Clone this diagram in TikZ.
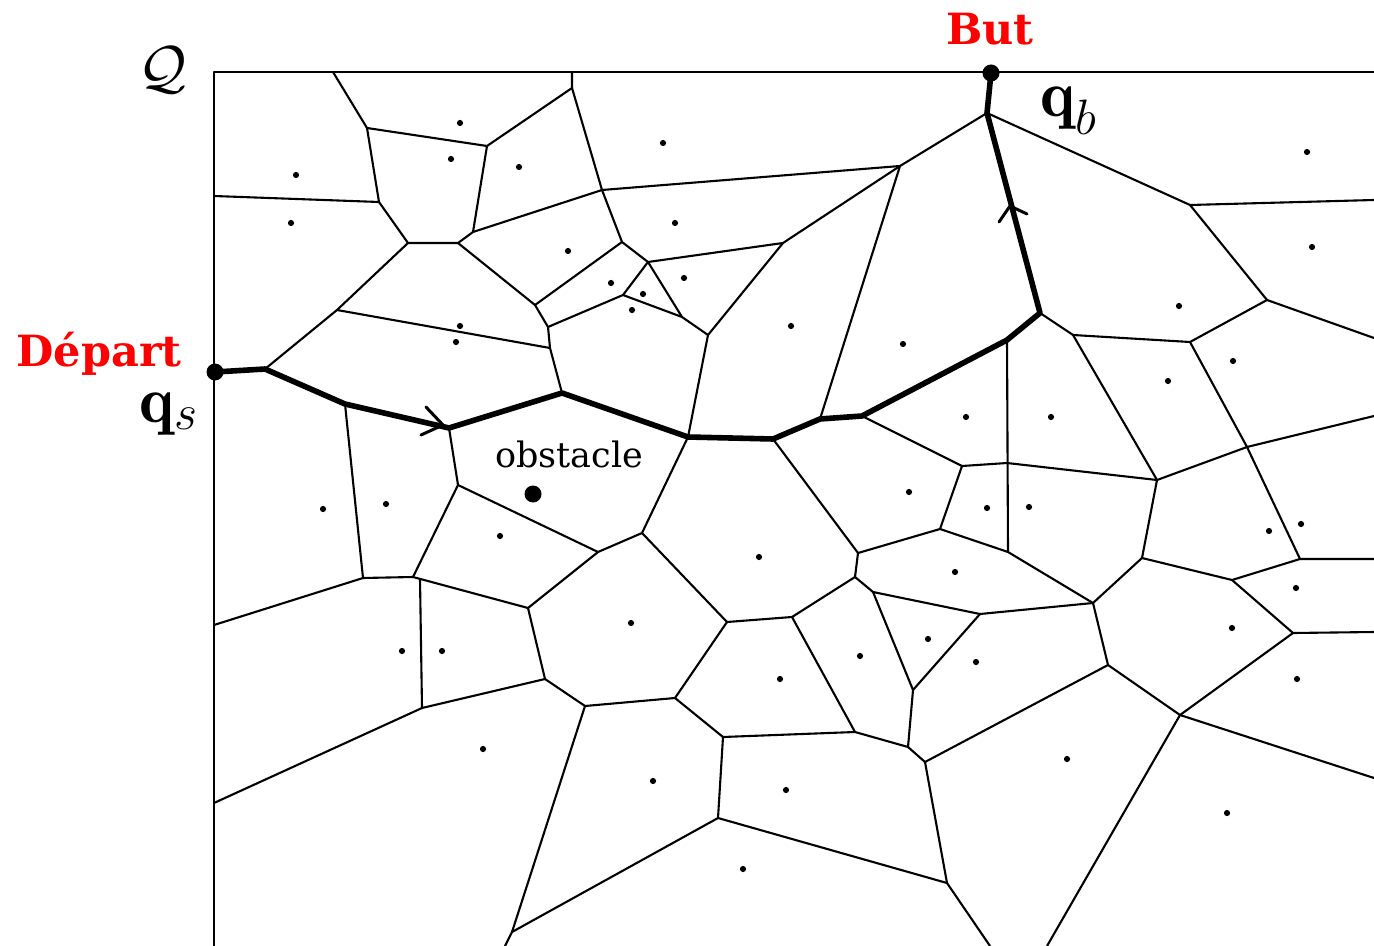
\documentclass[tikz,border=0pt]{standalone}
\usepackage{amsmath,amssymb}
\usepackage{fontspec}
\newfontfamily\labfont{DejaVu Serif}
\begin{document}
\begin{tikzpicture}[x=0.5pt,y=-0.5pt,
  edge/.style={line width=1.05pt,line join=round},
  route/.style={line width=2.8pt,line join=round,line cap=round},
  barb/.style={line width=1.5pt,line cap=round},
  site/.style={circle,fill=black,inner sep=0pt,minimum size=3.1pt},
  bigdot/.style={circle,fill=black,inner sep=0pt,minimum size=8.5pt},
  lab/.style={inner sep=0pt}]
\useasboundingbox (0,0) rectangle (1374,946);
% frame
\draw[edge] (214,946) -- (214,72) -- (1374,72);
% Voronoi edges
\draw[edge] (333,72) -- (367,128) -- (487,146) -- (572,88) -- (572,72);
\draw[edge] (367,128) -- (379,202) -- (408,243) -- (458,243) -- (473,232) -- (487,146);
\draw[edge] (214,196) -- (379,202);
\draw[edge] (408,243) -- (337,310) -- (265,369);
\draw[edge] (337,310) -- (550,348);
\draw[edge] (458,243) -- (535,305) -- (548,327) -- (550,348) -- (562,393);
\draw[edge] (473,232) -- (602,190) -- (572,88);
\draw[edge] (602,190) -- (900,166) -- (987,113);
\draw[edge] (602,190) -- (622,242) -- (535,305);
\draw[edge] (622,242) -- (648,262) -- (783,243) -- (900,166);
\draw[edge] (648,262) -- (682,317) -- (708,335) -- (783,243);
\draw[edge] (648,262) -- (623,295);
\draw[edge] (548,327) -- (623,295) -- (682,317);
\draw[edge] (708,335) -- (688,437);
\draw[edge] (900,166) -- (820,419);
\draw[edge] (987,113) -- (1190,205) -- (1374,200);
\draw[edge] (1190,205) -- (1267,300) -- (1374,338);
\draw[edge] (1267,300) -- (1190,342) -- (1073,335) -- (1040,313);
\draw[edge] (1073,335) -- (1157,480) -- (1247,447) -- (1190,342);
\draw[edge] (1247,447) -- (1374,416);
\draw[edge] (1247,447) -- (1300,559) -- (1374,559);
\draw[edge] (1300,559) -- (1232,580) -- (1142,558) -- (1157,480);
\draw[edge] (1157,480) -- (1007,463) -- (962,466) -- (862,416);
\draw[edge] (1007,340) -- (1008,552);
\draw[edge] (962,466) -- (940,529) -- (858,553) -- (773,439);
\draw[edge] (940,529) -- (1008,552) -- (1093,603) -- (1142,558);
\draw[edge] (1093,603) -- (980,614) -- (873,592) -- (855,577) -- (858,553);
\draw[edge] (1232,580) -- (1293,633) -- (1374,632);
\draw[edge] (1093,603) -- (1108,665) -- (1180,715) -- (1293,633);
\draw[edge] (1180,715) -- (1374,778);
\draw[edge] (1180,715) -- (1047,946);
\draw[edge] (1108,665) -- (925,762) -- (947,883) -- (990,946);
\draw[edge] (980,614) -- (913,690) -- (873,592);
\draw[edge] (913,690) -- (908,747) -- (925,762);
\draw[edge] (908,747) -- (855,732) -- (792,617) -- (855,577);
\draw[edge] (792,617) -- (727,622) -- (642,533) -- (688,437);
\draw[edge] (855,732) -- (723,737) -- (675,698) -- (727,622);
\draw[edge] (723,737) -- (718,818) -- (947,883);
\draw[edge] (718,818) -- (512,932) -- (505,946);
\draw[edge] (512,932) -- (585,706) -- (675,698);
\draw[edge] (585,706) -- (545,679) -- (528,608) -- (598,552) -- (642,533);
\draw[edge] (598,552) -- (458,485) -- (449,428);
\draw[edge] (458,485) -- (413,577) -- (363,578) -- (345,404);
\draw[edge] (363,578) -- (214,625);
\draw[edge] (413,577) -- (528,608);
\draw[edge] (420,579) -- (422,708);
\draw[edge] (422,708) -- (214,803);
\draw[edge] (422,708) -- (545,679);
% sites
\foreach \p in {(460,123),(451,159),(519,167),(296,175),(291,223),(568,251),
  (460,326),(456,342),(663,143),(675,223),(684,278),(611,283),(643,294),
  (632,310),(791,326),(903,344),(1307,152),(1312,247),(1179,306),(1233,361),
  (1168,381),(966,417),(1051,417),(987,508),(1029,507),(1269,531),(1301,524),
  (1296,588),(1232,628),(909,492),(759,557),(955,572),(631,623),(780,679),
  (860,656),(928,639),(976,662),(653,781),(786,790),(743,869),(1297,679),
  (1067,759),(1227,813),(323,509),(386,504),(500,536),(402,651),(442,651),
  (483,749)}
  \node[site] at \p {};
% path
\node[bigdot] (start) at (215,372) {};
\node[bigdot] (goal) at (991,73) {};
\node[bigdot] (obs) at (533,494) {};
\draw[route] (start.center) -- (265,369) -- (345,404) -- (449,428) -- (562,393)
  -- (688,437) -- (773,439) -- (820,419) -- (862,416) -- (1007,340)
  -- (1040,313) -- (987,113) -- (goal.center);
% direction barbs
\draw[barb] (426,407) -- (443,425) -- (421,435);
\draw[barb] (999,222) -- (1010,206) -- (1027,214);
% labels
\node[lab,anchor=base,text=red] (but) at (990,45) {\labfont\fontsize{21.5}{26}\selectfont\bfseries But};
\node[lab,anchor=base,text=red] (dep) at (99,366) {\labfont\fontsize{21.5}{26}\selectfont\bfseries Départ};
\node[lab,anchor=base] (qb) at (1069,117) {\fontsize{33}{38}\selectfont$\mathbf{q}_b$};
\node[lab,anchor=base] (qs) at (169,422) {\fontsize{33}{38}\selectfont$\mathbf{q}_s$};
\node[lab,scale=1.19] (Q) at (163,70) {\fontsize{24.88}{30}\selectfont$\mathcal{Q}$};
\node[lab,anchor=base] (ob) at (569,467) {\labfont\fontsize{17.5}{21}\selectfont obstacle};
\end{tikzpicture}
\end{document}
